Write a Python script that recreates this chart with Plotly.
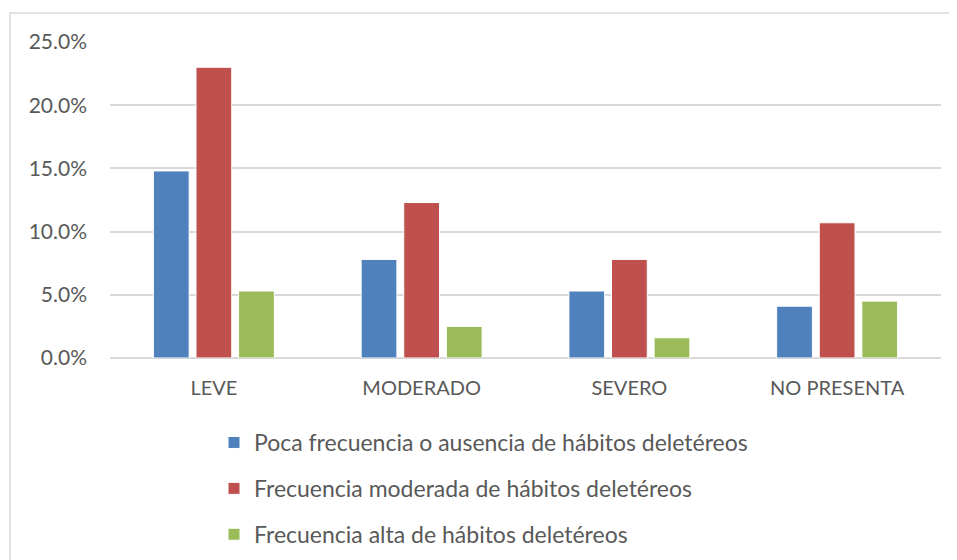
import plotly.graph_objects as go

categories = ["LEVE", "MODERADO", "SEVERO", "NO PRESENTA"]
series_names = [
    "Poca frecuencia o ausencia de hábitos deletéreos",
    "Frecuencia moderada de hábitos deletéreos",
    "Frecuencia alta de hábitos deletéreos",
]
poca = [0.148, 0.078, 0.053, 0.041]
moderada = [0.230, 0.123, 0.078, 0.107]
alta = [0.053, 0.025, 0.016, 0.045]

COLORS = ["#4F81BD", "#C0504D", "#9BBB59"]
TEXT = "#595959"
FONT = "Lato, Carlito, Calibri, sans-serif"

fig = go.Figure()
for i, (name, vals) in enumerate(zip(series_names, [poca, moderada, alta])):
    fig.add_trace(go.Bar(
        x=categories, y=vals, name=name,
        marker=dict(color=COLORS[i], line=dict(color="white", width=1)),
        legendgroup=f"g{i}",
    ))

# page body adds an 8px offset, margins account for it
fig.update_layout(
    width=957, height=560,
    margin=dict(l=102, r=24, t=34, b=210, autoexpand=False),
    paper_bgcolor="white", plot_bgcolor="white",
    font=dict(family=FONT, size=20, color=TEXT),
    barmode="group", bargap=0.385, bargroupgap=0.16,
    showlegend=True,
    legend=dict(
        orientation="v",
        xref="container", x=206 / 957, xanchor="left",
        yref="container", y=1 - 413 / 560, yanchor="top",
        tracegroupgap=13, font=dict(size=23, color=TEXT),
        itemwidth=30,
    ),
    xaxis=dict(showgrid=False, showline=False, ticks="", ticklabelstandoff=16),
    yaxis=dict(
        range=[0, 0.25], dtick=0.05, tickformat=".1%",
        showgrid=True, gridcolor="#D9D9D9", gridwidth=1.5,
        zeroline=True, zerolinecolor="#D9D9D9", zerolinewidth=1.5,
        ticks="", ticklabelstandoff=22, tickfont=dict(size=21),
    ),
    shapes=[dict(
        type="rect", xref="paper", yref="paper",
        x0=-0.1203, x1=1.03, y0=-0.7, y1=1.0918,
        line=dict(color="#D9D9D9", width=1.5), fillcolor="rgba(0,0,0,0)",
    )],
)

fig.write_html("out.html")
